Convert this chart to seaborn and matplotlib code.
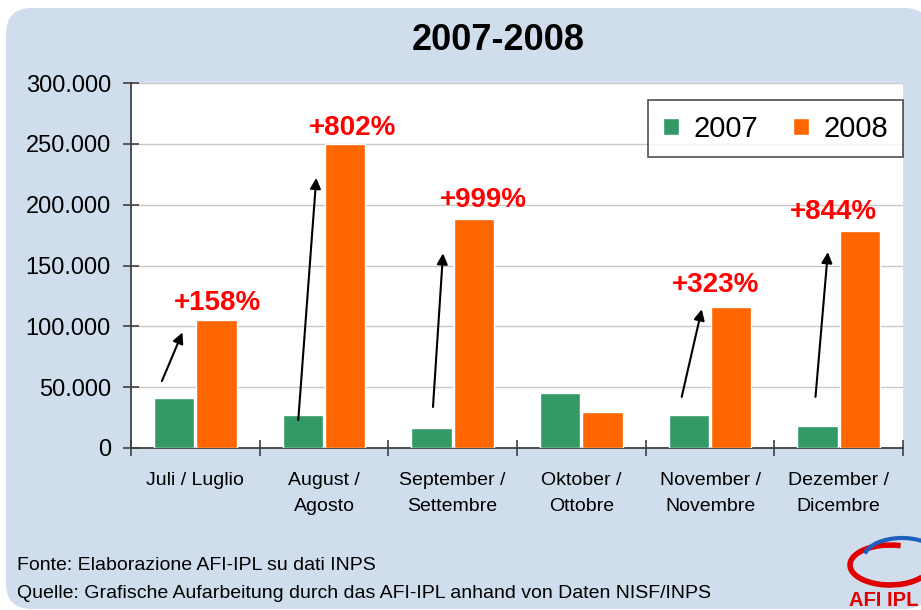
import numpy as np
import pandas as pd
import matplotlib
matplotlib.use("Agg")
import matplotlib.pyplot as plt
import matplotlib.ticker as ticker
from matplotlib.patches import FancyBboxPatch, Arc, Patch
import seaborn as sns

sns.set_theme(style="white")
plt.rcParams['font.family'] = ['Liberation Sans', 'DejaVu Sans']
plt.rcParams['text.color'] = 'black'
plt.rcParams['xtick.color'] = 'black'
plt.rcParams['ytick.color'] = 'black'

# data
months = ['Juli / Luglio', 'August /\nAgosto', 'September /\nSettembre',
          'Oktober /\nOttobre', 'November /\nNovembre', 'Dezember /\nDicembre']
val_2007 = [41000, 27000, 16500, 45000, 27000, 18000]
val_2008 = [105000, 250000, 188000, 29500, 116000, 178000]
pct_labels = ['+158%', '+802%', '+999%', None, '+323%', '+844%']
yticks = [0, 50000, 100000, 150000, 200000, 250000, 300000]

# annotation layout (category offset, value)
label_pos = [(0.17, 119000), (0.22, 263000), (0.235, 204000), None, (0.04, 134000), (-0.04, 194000)]
arrow_from = [(-0.26, 55000), (-0.20, 23000), (-0.153, 33700), None, (-0.22, 42000), (-0.18, 42000)]
arrow_to = [(-0.10, 95000), (-0.06, 222000), (-0.075, 160000), None, (-0.064, 114000), (-0.084, 161000)]

GREEN = '#339966'
ORANGE = '#ff6600'
BG = '#d0ddec'

df = pd.DataFrame({
    'month': months * 2,
    'year': ['2007'] * len(months) + ['2008'] * len(months),
    'value': val_2007 + val_2008,
})

W, H = 921, 610
fig = plt.figure(figsize=(W / 100, H / 100), dpi=100, facecolor='white')

# rounded light blue panel
panel = FancyBboxPatch((6 / W, 1 - 609 / H), 1 - 6 / W + 0.01, (609 - 8) / H,
                       boxstyle='round,pad=0,rounding_size=0.028',
                       mutation_aspect=W / H,
                       transform=fig.transFigure, facecolor=BG, edgecolor='none', zorder=0)
fig.add_artist(panel)

ax = fig.add_axes([131 / W, 1 - 448 / H, (903 - 131) / W, (448 - 83) / H])
ax.set_facecolor('white')
ax.set_zorder(1)

sns.barplot(data=df, x='month', y='value', hue='year', order=months,
            palette=[GREEN, ORANGE], width=0.66, gap=0.05, saturation=1,
            ax=ax, legend=False, zorder=3)

ax.set_ylim(0, 300000)
ax.set_xlim(-0.5, len(months) - 0.5)
ax.set_yticks(yticks)
ax.yaxis.set_major_formatter(ticker.FuncFormatter(lambda v, p: format(int(v), ',').replace(',', '.')))
ax.grid(axis='y', color='#c8c8c8', lw=1, zorder=0)
ax.set_axisbelow(True)
ax.set_xlabel('')
ax.set_ylabel('')

for s in ['top', 'right']:
    ax.spines[s].set_visible(False)
for s in ['left', 'bottom']:
    ax.spines[s].set_color('#404040')
    ax.spines[s].set_linewidth(1.3)

ax.tick_params(axis='y', direction='inout', length=11, width=1.2, color='#404040',
               labelsize=17, pad=9, left=True, labelcolor='black')
ax.tick_params(axis='x', which='major', length=0, labelsize=14, pad=17, labelcolor='black')
ax.set_xticks(np.arange(-0.5, len(months)), minor=True)
ax.tick_params(axis='x', which='minor', direction='inout', length=11, width=1.2,
               color='#404040', bottom=True)
for t in ax.get_xticklabels():
    t.set_linespacing(1.75)

# percentage labels and arrows
for i, lab in enumerate(pct_labels):
    if lab is None:
        continue
    dx, yv = label_pos[i]
    ax.text(i + dx, yv, lab, ha='center', va='center', color='#ff0000',
            fontsize=20, fontweight='bold', zorder=5)
    fx, fy = arrow_from[i]
    tx, ty = arrow_to[i]
    ax.annotate('', xy=(i + tx, ty), xytext=(i + fx, fy),
                arrowprops=dict(arrowstyle='-|>', color='black', lw=1.5,
                                mutation_scale=16, shrinkA=0, shrinkB=0), zorder=6)

handles = [Patch(facecolor=GREEN, label='2007'), Patch(facecolor=ORANGE, label='2008')]
leg = ax.legend(handles=handles, loc='upper right', bbox_to_anchor=(1.0, 0.953),
                ncol=2, fontsize=21, frameon=True, fancybox=False, borderaxespad=0,
                handlelength=0.55, handleheight=0.55, handletextpad=0.5,
                columnspacing=1.2, borderpad=0.5)
leg.get_frame().set_edgecolor('#222222')
leg.get_frame().set_linewidth(1.2)

fig.text(498 / W, 1 - 40 / H, '2007-2008', ha='center', va='center',
         fontsize=26, fontweight='bold', color='black')

fig.text(17 / W, 1 - 566 / H, 'Fonte: Elaborazione AFI-IPL su dati INPS',
         ha='left', va='center', fontsize=14, color='black')
fig.text(17 / W, 1 - 593 / H,
         'Quelle: Grafische Aufarbeitung durch das AFI-IPL anhand von Daten NISF/INPS',
         ha='left', va='center', fontsize=14, color='black')

# logo approximation
fig.add_artist(Arc((890 / W, 1 - 565 / H), 80 / W, 40 / H, theta1=70, theta2=330,
                   color='#e00000', lw=4, transform=fig.transFigure, zorder=2))
fig.add_artist(Arc((902 / W, 1 - 558 / H), 76 / W, 40 / H, theta1=15, theta2=170,
                   color='#1f5fbf', lw=3, transform=fig.transFigure, zorder=2))
fig.text(849 / W, 1 - 600 / H, 'AFI IPL', ha='left', va='center',
         fontsize=14.5, fontweight='heavy', color='#e00000')

fig.savefig('out.png', dpi=100, facecolor='white')
